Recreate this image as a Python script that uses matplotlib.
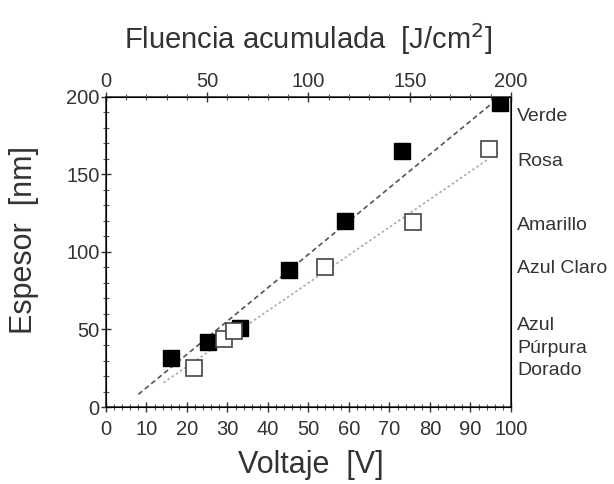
import numpy as np
import matplotlib
matplotlib.use('Agg')
import matplotlib.pyplot as plt
import matplotlib.ticker as ticker

plt.rcParams['font.family'] = ['Liberation Sans', 'DejaVu Sans']

# Espesor vs voltaje, dos series de muestras
volt_llenos = [16.0, 25.3, 33.2, 45.2, 59.1, 73.1, 97.2]
esp_llenos = [31.8, 41.7, 50.8, 88.4, 120.0, 165.2, 196.3]

volt_vacios = [21.7, 29.1, 31.7, 54.1, 75.7, 94.6]
esp_vacios = [25.0, 43.7, 49.2, 90.5, 119.2, 166.5]

# extremos de las rectas de ajuste
ajuste_llenos_v = [8.0, 96.9]
ajuste_llenos_e = [8.2, 199.2]
ajuste_vacios_v = [14.2, 94.5]
ajuste_vacios_e = [15.7, 160.0]

colores = ['Verde', 'Rosa', 'Amarillo', 'Azul Claro', 'Azul\nPúrpura\nDorado']
colores_y = [187, 158, 117, 89, 38]

txt = '#333333'

fig = plt.figure(figsize=(6.14, 4.84), dpi=100)
ax = fig.add_axes([0.1726, 0.159, 0.6596, 0.641])

ax.plot(ajuste_llenos_v, ajuste_llenos_e, linestyle=(0, (3, 2)), color='#555555', linewidth=1.2)
ax.plot(ajuste_vacios_v, ajuste_vacios_e, linestyle=(0, (1.5, 1.5)), color='#aaaaaa', linewidth=1.2)

ax.plot(volt_llenos, esp_llenos, 's', markersize=11.5, color='black', markeredgecolor='black')
ax.plot(volt_vacios, esp_vacios, 's', markersize=11.5, markerfacecolor='white',
        markeredgecolor='#444444', markeredgewidth=1.2)

ax.set_xlim(0, 100)
ax.set_ylim(0, 200)
ax.xaxis.set_major_locator(ticker.MultipleLocator(10))
ax.xaxis.set_minor_locator(ticker.MultipleLocator(2))
ax.yaxis.set_major_locator(ticker.MultipleLocator(50))
ax.yaxis.set_minor_locator(ticker.MultipleLocator(10))
ax.tick_params(which='major', direction='inout', length=7, width=1, labelsize=14.5,
               labelcolor=txt, color='#333333', pad=1)
ax.tick_params(axis='x', which='major', pad=6)
ax.tick_params(which='minor', direction='inout', length=4, width=0.8, color='#555555')
ax.tick_params(axis='y', right=False)

for s in ax.spines.values():
    s.set_color('#333333')
    s.set_linewidth(1.2)

ax.set_xlabel('Voltaje  [V]', fontsize=22, color=txt)
ax.set_ylabel('Espesor  [nm]', fontsize=22, color=txt)
ax.xaxis.set_label_coords(0.505, -0.14)
ax.yaxis.set_label_coords(-0.165, 0.54)

# eje superior: fluencia acumulada
top = ax.twiny()
top.set_xlim(0, 200)
top.xaxis.set_major_locator(ticker.MultipleLocator(50))
top.xaxis.set_minor_locator(ticker.MultipleLocator(10))
top.tick_params(which='major', direction='inout', length=7, width=1, labelsize=14.5,
                labelcolor=txt, color='#333333', pad=1)
top.tick_params(which='minor', direction='inout', length=4, width=0.8, color='#555555')
top.set_xlabel('Fluencia acumulada  [J/cm$^2$]', fontsize=21, color=txt, labelpad=16)

for nombre, y in zip(colores, colores_y):
    ax.text(1.015, y, nombre, transform=ax.get_yaxis_transform(), fontsize=14,
            color=txt, va='center', ha='left', linespacing=1.4)

fig.savefig('out.png', dpi=100)
